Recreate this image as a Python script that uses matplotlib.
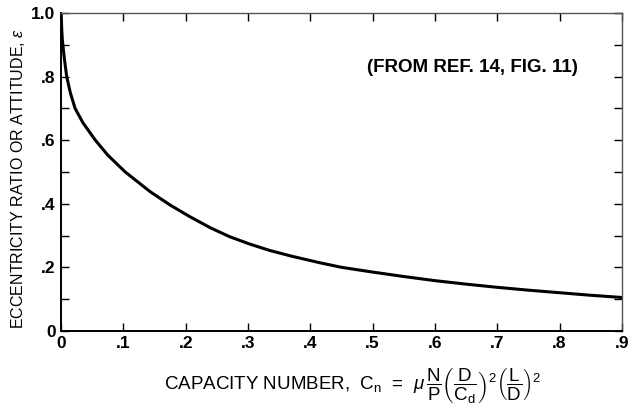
import numpy as np
import matplotlib.pyplot as plt
from matplotlib.ticker import MultipleLocator

plt.rcParams['font.family'] = ['Liberation Sans', 'DejaVu Sans']
plt.rcParams['mathtext.fontset'] = 'custom'
plt.rcParams['mathtext.rm'] = 'Liberation Sans'
plt.rcParams['mathtext.it'] = 'Liberation Sans:italic'
plt.rcParams['mathtext.bf'] = 'Liberation Sans:bold'

# Werte
capacity = [0.0, 0.001, 0.002, 0.005, 0.009, 0.015, 0.0225, 0.035, 0.055, 0.075,
            0.103, 0.143, 0.175, 0.207, 0.24, 0.271, 0.303, 0.335, 0.37, 0.416,
            0.45, 0.5, 0.55, 0.6, 0.65, 0.7, 0.75, 0.8, 0.85, 0.9]
eccentricity = [1.0, 0.95, 0.915, 0.86, 0.8, 0.748, 0.7, 0.655, 0.6, 0.553,
                0.5, 0.438, 0.396, 0.359, 0.324, 0.296, 0.273, 0.253, 0.235, 0.214,
                0.2, 0.185, 0.171, 0.158, 0.147, 0.137, 0.128, 0.12, 0.112, 0.105]

x_ticks = [0, 0.1, 0.2, 0.3, 0.4, 0.5, 0.6, 0.7, 0.8, 0.9]
x_labels = ['0', '.1', '.2', '.3', '.4', '.5', '.6', '.7', '.8', '.9']
y_ticks = [0, 0.2, 0.4, 0.6, 0.8, 1.0]
y_labels = ['0', '.2', '.4', '.6', '.8', '1.0']

fig = plt.figure(figsize=(6.3, 4.12), dpi=100)
ax = fig.add_axes([0.097, 0.197, 0.890, 0.771])

ax.plot(capacity, eccentricity, color='black', lw=2.2, solid_capstyle='round',
        solid_joinstyle='round')

ax.set_xlim(0, 0.9)
ax.set_ylim(0, 1.0)
ax.set_xticks(x_ticks)
ax.set_xticklabels(x_labels)
ax.set_yticks(y_ticks)
ax.set_yticklabels(y_labels)
ax.yaxis.set_minor_locator(MultipleLocator(0.1))

ax.tick_params(axis='both', which='both', direction='in', top=True, right=True,
               labelsize=12.5, pad=4)
ax.tick_params(axis='both', which='major', length=6, width=1.0)
ax.tick_params(axis='both', which='minor', length=6, width=1.0)
for lab in ax.get_xticklabels() + ax.get_yticklabels():
    lab.set_fontweight('bold')

for side in ['left', 'bottom']:
    ax.spines[side].set_linewidth(1.4)
for side in ['top', 'right']:
    ax.spines[side].set_linewidth(1.0)
    ax.spines[side].set_color('#555555')

ax.set_ylabel(r'ECCENTRICITY RATIO OR ATTITUDE, $\epsilon$', fontsize=11.5)
ax.yaxis.set_label_coords(-0.06, 0.48)
ax.set_xlabel(r'CAPACITY NUMBER,  C$_\mathregular{n}$  =  $\mu\,\dfrac{\mathrm{N}}{\mathrm{P}}'
              r'\left(\dfrac{\mathrm{D}}{\mathrm{C_d}}\right)^2\left(\dfrac{\mathrm{L}}{\mathrm{D}}\right)^2$',
              fontsize=13.5)
ax.xaxis.set_label_coords(0.52, -0.11)

ax.text(0.66, 0.83, '(FROM REF. 14, FIG. 11)', fontsize=13.5, fontweight='bold',
        ha='center', va='center')

fig.savefig('out.png', dpi=100)
